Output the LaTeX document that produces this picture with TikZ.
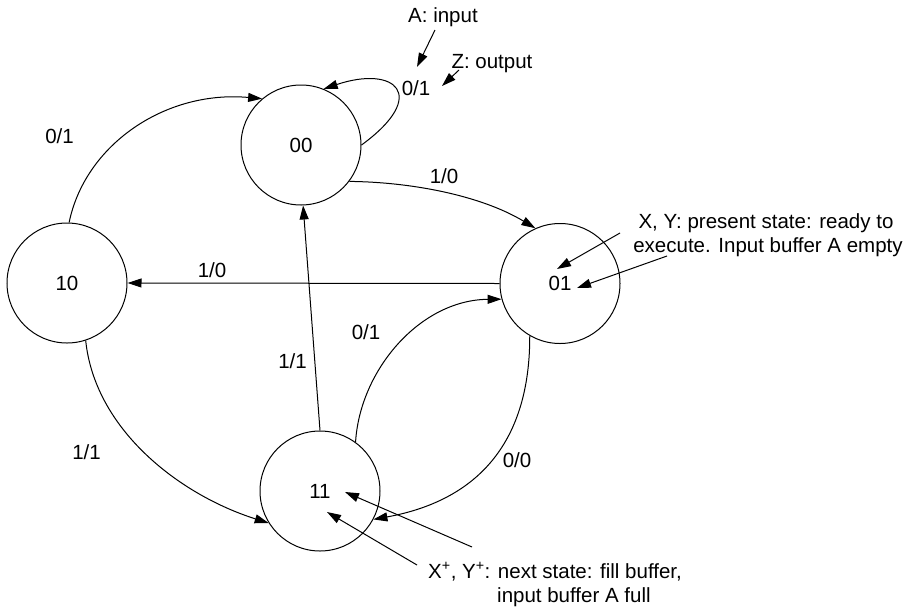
\documentclass[tikz,border=0pt]{standalone}
\usepackage{fontspec}
\setmainfont{Liberation Sans}
\usetikzlibrary{arrows.meta}
\begin{document}
\begin{tikzpicture}[x=1pt,y=-1pt,
  state/.style={circle,draw,line width=1pt,minimum size=120pt,inner sep=0pt,font=\fontsize{20.5}{24}\selectfont},
  lbl/.style={anchor=base,inner sep=0pt,font=\fontsize{20.5}{24}\selectfont},
  lblw/.style={anchor=base west,inner sep=0pt,font=\fontsize{20.5}{24}\selectfont},
  edge/.style={line width=1pt,-{Triangle[length=14pt,width=9pt]}},
]
\useasboundingbox (0,0) rectangle (908,606);
% states
\node[state] (s00) at (301,145) {00};
\node[state] (s10) at (67,283) {10};
\node[state] (s01) at (560,283.5) {01};
\node[state] (s11) at (320,491) {11};
% transitions
\draw[edge] (s00.0) .. controls (430,95) and (395,65) .. (s00.68);
\draw[edge] (s00.-37) .. controls (410,182) and (480,195) .. (s01.114);
\draw[edge] (s10.88) .. controls (85,145) and (165,90) .. (s00.130);
\draw[edge] (s01.180) -- (s10.0);
\draw[edge] (s11.90) -- (s00.-88);
\draw[edge] (s11.54) .. controls (360,370) and (420,300) .. (s01.195);
\draw[edge] (s01.240) .. controls (530,440) and (480,500) .. (s11.-28);
\draw[edge] (s10.-72) .. controls (95,430) and (180,495) .. (s11.212);
% transition labels
\node[lbl] (lloop) at (416,95) {0/1};
\node[lbl] (l0001) at (444,183) {1/0};
\node[lbl] (l1000) at (59.5,143) {0/1};
\node[lbl] (l0110) at (212,277) {1/0};
\node[lbl] (l1100) at (292.5,368) {1/1};
\node[lbl] (l1101) at (366,339) {0/1};
\node[lbl] (l0111) at (517,467) {0/0};
\node[lbl] (l1011) at (86.5,459) {1/1};
% annotations
\node[lbl] (tA) at (443,22) {A: input};
\node[lbl] (tZ) at (492,68) {Z: output};
\node[lbl] (tX1) at (766,228) {X, Y: present state: ready to};
\node[lbl] (tX2) at (768,252) {execute. Input buffer A empty};
\node[lblw] (tN1) at (428,578) {X\textsuperscript{+}, Y\textsuperscript{+}: next state: fill buffer,};
\node[lblw] (tN2) at (497,602) {input buffer A full};
\coordinate (pA1) at (435,30);  \coordinate (pA2) at (417,67);
\coordinate (pZ1) at (459,70);  \coordinate (pZ2) at (442,86);
\coordinate (pX1) at (620,233); \coordinate (pX2) at (557,269);
\coordinate (pX3) at (667,256); \coordinate (pX4) at (577,288);
\coordinate (pN1) at (417,565); \coordinate (pN2) at (327,512);
\coordinate (pN3) at (472,547); \coordinate (pN4) at (345,492);
\draw[edge] (pA1) -- (pA2);
\draw[edge] (pZ1) -- (pZ2);
\draw[edge] (pX1) -- (pX2);
\draw[edge] (pX3) -- (pX4);
\draw[edge] (pN1) -- (pN2);
\draw[edge] (pN3) -- (pN4);
\end{tikzpicture}
\end{document}
